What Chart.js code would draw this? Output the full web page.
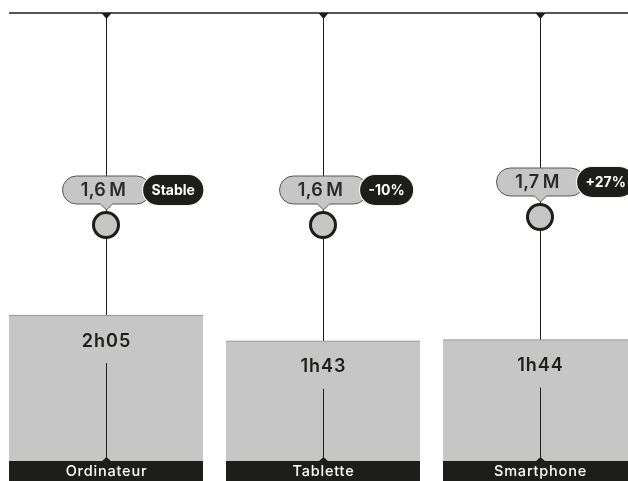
<!DOCTYPE html>
<html>
<head>
<meta charset="utf-8">
<script src="https://cdn.jsdelivr.net/npm/chart.js@4/dist/chart.umd.min.js"></script>
<style>
  html, body { margin: 0; padding: 0; background: #fff; overflow: hidden; }
  #wrap { width: 628px; height: 481px; }
</style>
</head>
<body>
<div id="wrap"><canvas id="chart" width="628" height="481"></canvas></div>
<script>
// appareils
const categories = ['Ordinateur', 'Tablette', 'Smartphone'];
// durée moyenne en minutes (2h05, 1h43, 1h44)
const durationMinutes = [125, 103, 104];
// audience en millions
const audienceMillions = [1.6, 1.6, 1.7];
// évolution
const evolutionLabels = ['Stable', '-10%', '+27%'];

const DARK = '#1d1d1b';
const GREY = '#c6c6c6';

function formatDuration(m) {
    const h = Math.floor(m / 60);
    const mm = String(m % 60).padStart(2, '0');
    return h + 'h' + mm;
}

function formatAudience(v) {
    return v.toFixed(1).replace('.', ',') + '\u2009M';
}

function roundRect(ctx, x, y, w, h, r) {
    ctx.beginPath();
    ctx.moveTo(x + r, y);
    ctx.lineTo(x + w - r, y);
    ctx.arc(x + w - r, y + r, r, -Math.PI / 2, 0);
    ctx.lineTo(x + w, y + h - r);
    ctx.arc(x + w - r, y + h - r, r, 0, Math.PI / 2);
    ctx.lineTo(x + r, y + h);
    ctx.arc(x + r, y + h - r, r, Math.PI / 2, Math.PI);
    ctx.lineTo(x, y + r);
    ctx.arc(x + r, y + r, r, Math.PI, Math.PI * 1.5);
    ctx.closePath();
}

const decorPlugin = {
    id: 'decor',
    beforeDatasetsDraw(chart) {
        const ctx = chart.ctx;
        const area = chart.chartArea;
        const xs = chart.scales.x;
        ctx.save();
        // ligne du haut
        ctx.strokeStyle = DARK;
        ctx.lineWidth = 1.5;
        ctx.beginPath();
        ctx.moveTo(area.left, area.top);
        ctx.lineTo(area.right, area.top);
        ctx.stroke();
        ctx.lineWidth = 1;
        categories.forEach((c, i) => {
            const x = Math.round(xs.getPixelForValue(i)) + 0.5;
            ctx.beginPath();
            ctx.moveTo(x, area.top);
            ctx.lineTo(x, area.bottom);
            ctx.stroke();
            ctx.fillStyle = DARK;
            ctx.beginPath();
            ctx.moveTo(x - 5, area.top);
            ctx.lineTo(x + 5, area.top);
            ctx.lineTo(x, area.top + 6);
            ctx.closePath();
            ctx.fill();
        });
        ctx.restore();
    },
    afterDatasetsDraw(chart) {
        const ctx = chart.ctx;
        const area = chart.chartArea;
        const xs = chart.scales.x;
        const bars = chart.getDatasetMeta(0).data;
        const dots = chart.getDatasetMeta(1).data;
        ctx.save();
        categories.forEach((c, i) => {
            const bar = bars[i];
            const x = Math.round(xs.getPixelForValue(i)) + 0.5;
            const left = bar.x - bar.width / 2;
            // bandeau catégorie
            ctx.fillStyle = DARK;
            ctx.fillRect(left, area.bottom, bar.width, chart.height - area.bottom);
            ctx.beginPath();
            ctx.moveTo(x - 5, area.bottom + 0.5);
            ctx.lineTo(x + 5, area.bottom + 0.5);
            ctx.lineTo(x, area.bottom - 4);
            ctx.closePath();
            ctx.fill();
            ctx.fillStyle = '#fff';
            ctx.font = '500 14.5px Inter';
            ctx.letterSpacing = '0.8px';
            ctx.textAlign = 'center';
            ctx.textBaseline = 'middle';
            ctx.fillText(c, x, area.bottom + 11);

            // durée dans la barre
            const ty = bar.y + 26;
            ctx.fillStyle = DARK;
            ctx.font = '600 18px Inter';
            ctx.letterSpacing = '1px';
            ctx.fillText(formatDuration(durationMinutes[i]), x, ty);
            ctx.strokeStyle = DARK;
            ctx.lineWidth = 1;
            ctx.beginPath();
            ctx.moveTo(x, ty + 22);
            ctx.lineTo(x, area.bottom);
            ctx.stroke();

            // bulle audience
            const cy = dots[i].y;
            const py = cy - 35;
            const ph = 28;
            const pw = 88;
            ctx.fillStyle = GREY;
            ctx.strokeStyle = '#555';
            ctx.lineWidth = 1;
            roundRect(ctx, x - pw / 2, py - ph / 2, pw, ph, ph / 2);
            ctx.fill();
            ctx.stroke();
            // pointe
            ctx.beginPath();
            ctx.moveTo(x - 6, py + ph / 2);
            ctx.lineTo(x, py + ph / 2 + 6);
            ctx.lineTo(x + 6, py + ph / 2);
            ctx.fill();
            ctx.stroke();
            ctx.fillRect(x - 6, py + ph / 2 - 1.5, 12, 2);

            ctx.fillStyle = '#2a2a2a';
            ctx.font = '600 18px Inter';
            ctx.letterSpacing = '0.3px';
            ctx.fillText(formatAudience(audienceMillions[i]), x - 3, py + 1);

            // pastille évolution
            ctx.font = '700 14px Inter';
            ctx.letterSpacing = '0px';
            const bw = ctx.measureText(evolutionLabels[i]).width + 18;
            const bh = 31;
            const bx = x + 36;
            roundRect(ctx, bx, py - bh / 2, bw, bh, bh / 2);
            ctx.fillStyle = DARK;
            ctx.fill();
            ctx.strokeStyle = '#f2f2f2';
            ctx.lineWidth = 1.2;
            ctx.stroke();
            ctx.fillStyle = '#fff';
            ctx.fillText(evolutionLabels[i], bx + bw / 2, py + 1);
        });
        ctx.restore();
    }
};

const ctx = document.getElementById('chart').getContext('2d');
new Chart(ctx, {
    type: 'bar',
    data: {
        datasets: [{
            type: 'bar',
            data: durationMinutes.map((v, i) => ({ x: i, y: v })),
            backgroundColor: GREY,
            borderColor: '#8c8c8c',
            borderWidth: { top: 1, left: 0, right: 0, bottom: 0 },
            borderSkipped: false,
            barThickness: 194,
            yAxisID: 'y',
            order: 2
        }, {
            type: 'line',
            data: audienceMillions.map((v, i) => ({ x: i, y: v })),
            showLine: false,
            pointRadius: 12.5,
            pointBorderWidth: 3,
            pointBackgroundColor: GREY,
            pointBorderColor: DARK,
            yAxisID: 'y2',
            order: 1
        }]
    },
    options: {
        responsive: false,
        animation: false,
        layout: { autoPadding: false, padding: { top: 13, bottom: 20, left: 9, right: 0 } },
        plugins: {
            legend: { display: false },
            tooltip: { enabled: false }
        },
        scales: {
            x: { type: 'linear', min: -0.447, max: 2.4055, offset: false, display: false },
            y: { min: 0, max: 384, display: false },
            y2: { min: -1.35, max: 4.25, display: false }
        }
    },
    plugins: [decorPlugin]
});
</script>
</body>
</html>
